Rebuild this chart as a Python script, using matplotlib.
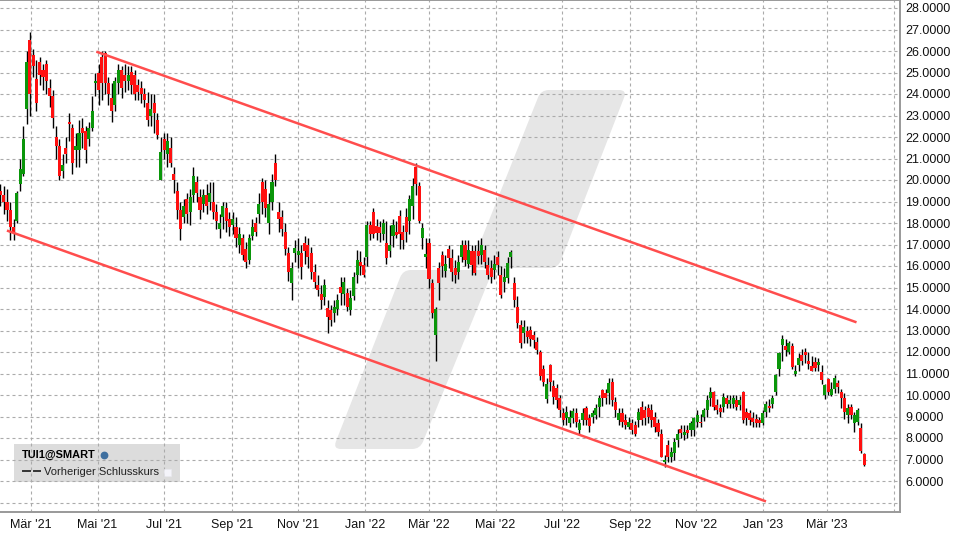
import numpy as np
import pandas as pd
import matplotlib
matplotlib.use("Agg")
import matplotlib.pyplot as plt
import matplotlib.dates as mdates
from matplotlib.lines import Line2D
from matplotlib.patches import PathPatch, Rectangle
from matplotlib.path import Path

plt.rcParams['font.family'] = ['Liberation Sans', 'DejaVu Sans']

# Kurse (alle 3 Tage eine Kerze)
opens = [
    19.5, 19.3, 19.0, 18.6, 17.8, 18.1, 19.8, 20.3, 23.3, 26.5,
    25.8, 24.7, 25.5, 25.1, 25.4, 24.3, 23.9, 22.0, 21.6, 20.4,
    21.5, 22.7, 22.4, 21.4, 21.4, 22.4, 22.3, 21.9, 22.4, 24.5,
    25.0, 25.7, 25.9, 24.5, 23.8, 23.5, 24.5, 25.1, 24.9, 24.6,
    25.0, 24.9, 24.4, 24.3, 24.0, 23.6, 23.0, 23.6, 22.8, 20.0,
    21.9, 21.2, 21.5, 20.3, 19.5, 18.6, 18.3, 19.1, 18.5, 19.3,
    19.9, 19.2, 18.9, 19.3, 19.0, 19.0, 18.5, 17.7, 18.3, 18.7,
    18.2, 17.9, 17.8, 17.0, 17.3, 16.8, 16.3, 17.4, 18.0, 18.4,
    19.9, 19.6, 18.0, 19.0, 20.8, 18.5, 18.3, 17.6, 16.6, 15.2,
    16.6, 16.5, 16.6, 17.07, 17.0, 16.6, 15.7, 15.1, 14.7, 14.55,
    14.03, 13.95, 13.8, 14.0, 15.04, 14.7, 14.73, 13.95, 14.6, 15.6,
    16.2, 16.05, 16.4, 17.9, 18.5, 17.86, 17.8, 17.5, 17.05, 16.7,
    17.4, 17.6, 18.34, 17.6, 18.3, 18.07, 18.8, 20.6, 19.7, 17.3,
    16.4, 17.05, 15.2, 12.8, 15.9, 16.5, 15.75, 16.8, 16.35, 15.9,
    15.74, 16.4, 16.98, 16.1, 16.7, 16.7, 16.7, 16.5, 16.74, 16.05,
    15.9, 15.8, 16.4, 15.6, 15.27, 15.43, 16.44, 15.2, 14.1, 13.25,
    12.87, 13.0, 13.02, 12.8, 12.48, 12.0, 11.2, 9.8, 11.4, 10.4,
    10.31, 9.85, 9.15, 8.91, 8.68, 8.91, 9.15, 8.37, 8.84, 9.38,
    8.92, 8.99, 9.07, 9.45, 10.23, 10.07, 10.07, 10.62, 9.69, 8.84,
    9.15, 8.84, 8.52, 8.68, 8.6, 8.84, 9.46, 9.3, 9.38, 9.3,
    8.99, 8.68, 8.2, 6.9, 7.67, 7.13, 7.29, 7.9, 8.4, 8.15,
    8.37, 8.37, 8.37, 8.76, 8.76, 9.0, 9.3, 9.85, 10.15, 9.53,
    9.38, 9.46, 9.85, 9.6, 9.6, 9.77, 9.53, 10.15, 9.22, 9.15,
    8.91, 8.9, 8.85, 8.7, 9.2, 9.5, 9.6, 10.16, 11.2, 12.33,
    12.3, 12.0, 12.3, 11.0, 11.4, 11.85, 12.0, 11.6, 11.35, 11.55,
    11.4, 11.07, 10.0, 10.73, 10.0, 10.3, 10.55, 10.15, 9.85, 9.07,
    9.46, 8.68, 8.76, 8.45, 7.25,
]
closes = [
    19.3, 19.0, 18.6, 17.8, 17.6, 19.4, 20.5, 21.9, 25.5, 24.0,
    25.3, 23.6, 24.9, 24.8, 24.6, 23.9, 22.9, 21.6, 20.2, 20.7,
    21.2, 22.6, 20.8, 21.6, 22.2, 22.2, 21.4, 22.4, 23.2, 24.6,
    24.2, 24.5, 24.5, 24.0, 23.2, 24.6, 25.1, 24.3, 24.6, 24.9,
    24.4, 24.0, 24.1, 24.0, 23.7, 22.8, 23.3, 23.1, 22.1, 21.3,
    21.4, 21.8, 20.8, 20.0, 18.6, 17.7, 18.8, 18.4, 19.2, 20.2,
    19.4, 18.6, 19.3, 18.8, 19.4, 18.5, 18.1, 18.0, 18.8, 18.1,
    17.8, 18.2, 17.3, 17.5, 16.5, 16.2, 17.3, 17.8, 17.6, 18.9,
    19.0, 18.7, 18.9, 19.9, 20.0, 18.2, 17.7, 16.8, 15.7, 15.9,
    16.85, 16.7, 15.95, 16.7, 16.4, 15.7, 15.25, 14.9, 14.4, 15.1,
    13.64, 13.5, 14.1, 14.4, 14.73, 15.27, 14.1, 14.5, 15.5, 16.3,
    16.0, 15.6, 17.9, 17.5, 17.5, 17.55, 17.55, 18.0, 16.35, 17.0,
    17.9, 17.45, 17.5, 17.2, 17.6, 19.1, 19.7, 19.8, 18.1, 17.75,
    16.55, 15.4, 13.8, 14.0, 15.2, 16.0, 16.1, 16.35, 15.7, 15.6,
    16.2, 16.97, 16.3, 16.75, 16.05, 15.66, 16.45, 16.98, 16.2, 15.6,
    15.5, 16.1, 16.05, 14.65, 15.5, 16.13, 16.67, 14.4, 13.33, 12.4,
    13.18, 12.7, 12.6, 12.55, 12.09, 10.9, 10.6, 10.5, 10.6, 9.9,
    9.77, 9.3, 8.85, 9.22, 8.99, 9.26, 8.75, 8.68, 9.15, 8.84,
    8.55, 9.15, 9.38, 9.85, 9.84, 9.84, 10.54, 9.77, 9.3, 9.15,
    8.76, 8.6, 8.76, 8.37, 8.2, 9.22, 8.84, 8.91, 9.0, 8.84,
    8.52, 8.3, 7.13, 7.0, 7.13, 7.36, 7.83, 8.2, 8.25, 8.3,
    8.25, 8.68, 8.91, 9.07, 8.68, 9.3, 9.77, 10.15, 9.46, 9.3,
    9.2, 9.92, 9.6, 9.77, 9.85, 9.46, 9.77, 8.84, 8.91, 8.84,
    8.75, 8.7, 8.7, 9.15, 9.6, 9.4, 9.85, 10.93, 11.95, 12.6,
    12.1, 12.4, 11.3, 11.1, 11.7, 11.6, 11.85, 11.45, 11.13, 11.25,
    11.55, 10.7, 10.46, 10.15, 10.3, 10.77, 10.35, 9.85, 9.2, 9.38,
    9.07, 9.07, 9.3, 7.4, 6.74,
]
highs = [
    19.8, 19.7, 19.6, 19.0, 18.2, 19.5, 21.0, 22.5, 26.0, 26.9,
    26.1, 25.6, 25.7, 25.4, 25.6, 24.7, 24.2, 22.5, 21.9, 21.2,
    22.0, 23.1, 22.6, 22.2, 22.8, 22.9, 22.5, 22.7, 23.9, 25.0,
    25.4, 26.0, 26.0, 24.8, 24.5, 24.8, 25.4, 25.3, 25.4, 25.3,
    25.3, 25.1, 24.7, 24.6, 24.3, 24.1, 24.0, 24.0, 23.1, 22.0,
    22.2, 22.2, 22.0, 20.6, 19.9, 19.0, 19.1, 19.4, 19.6, 20.6,
    20.2, 19.6, 19.6, 19.8, 19.9, 19.9, 18.9, 18.4, 19.0, 19.0,
    18.5, 18.5, 18.3, 17.8, 17.5, 17.1, 17.5, 18.2, 18.3, 19.4,
    20.1, 20.0, 19.4, 20.3, 21.2, 19.0, 18.6, 18.0, 16.9, 16.2,
    17.2, 17.3, 17.0, 17.4, 17.3, 16.9, 16.1, 15.6, 15.1, 15.4,
    14.4, 14.2, 14.4, 14.7, 15.5, 15.5, 15.0, 14.9, 15.7, 16.74,
    16.7, 16.4, 18.1, 18.1, 18.7, 18.2, 18.1, 18.2, 18.1, 17.9,
    18.2, 18.1, 18.6, 17.9, 18.7, 19.3, 20.1, 20.8, 19.9, 18.0,
    17.3, 17.3, 15.4, 14.1, 16.2, 16.7, 16.5, 17.0, 16.8, 16.3,
    16.5, 17.2, 17.2, 17.2, 17.0, 17.0, 17.2, 17.3, 17.0, 16.4,
    16.3, 16.5, 16.7, 16.0, 15.9, 16.4, 16.75, 15.5, 14.6, 13.5,
    13.5, 13.2, 13.2, 13.0, 12.7, 12.1, 11.4, 10.8, 11.45, 10.7,
    10.5, 10.0, 9.4, 9.5, 9.3, 9.4, 9.4, 8.9, 9.4, 9.5,
    9.1, 9.3, 9.6, 10.0, 10.3, 10.3, 10.77, 10.8, 9.9, 9.4,
    9.4, 9.1, 9.0, 8.9, 8.8, 9.4, 9.7, 9.5, 9.6, 9.6,
    9.2, 8.9, 8.4, 7.2, 7.9, 7.6, 8.0, 8.4, 8.6, 8.6,
    8.6, 8.8, 9.0, 9.3, 9.1, 9.4, 10.0, 10.35, 10.2, 9.8,
    9.6, 10.1, 10.0, 10.0, 10.0, 10.0, 9.95, 10.2, 9.4, 9.3,
    9.2, 9.1, 9.0, 9.3, 9.7, 9.8, 10.0, 11.0, 12.0, 12.79,
    12.6, 12.5, 12.4, 11.4, 11.95, 12.15, 12.2, 12.0, 11.8, 11.75,
    11.7, 11.4, 10.5, 10.8, 10.6, 10.95, 10.7, 10.3, 10.1, 9.6,
    9.6, 9.2, 9.4, 8.7, 7.3,
]
lows = [
    18.8, 18.4, 18.1, 17.2, 17.2, 18.0, 19.5, 20.2, 22.6, 23.0,
    24.8, 23.2, 24.4, 24.2, 24.0, 23.4, 22.4, 21.0, 20.0, 20.1,
    20.8, 21.8, 20.3, 20.6, 20.6, 21.5, 20.8, 21.6, 22.3, 23.9,
    23.5, 23.7, 24.0, 23.5, 22.7, 23.2, 24.0, 23.8, 24.1, 24.2,
    24.0, 23.7, 23.7, 23.6, 23.4, 22.5, 22.5, 22.2, 21.9, 20.0,
    21.0, 20.6, 20.6, 19.4, 18.2, 17.2, 18.0, 18.0, 17.9, 19.0,
    19.0, 18.2, 18.5, 18.4, 18.6, 18.2, 17.7, 17.3, 17.7, 17.6,
    17.4, 17.5, 16.9, 16.6, 16.3, 15.9, 16.1, 17.2, 17.4, 18.0,
    18.4, 18.3, 17.5, 18.6, 19.7, 17.6, 17.4, 16.5, 15.3, 14.4,
    16.2, 15.9, 15.4, 16.1, 15.9, 15.4, 15.0, 14.6, 14.0, 14.2,
    12.9, 13.2, 13.4, 13.7, 14.2, 14.2, 13.9, 13.7, 14.4, 15.2,
    15.6, 15.5, 16.0, 17.2, 17.3, 17.2, 17.1, 17.2, 16.1, 16.4,
    16.9, 17.3, 16.8, 16.8, 17.1, 17.5, 18.2, 19.3, 18.0, 16.8,
    15.9, 15.0, 13.6, 11.6, 14.4, 15.5, 15.5, 15.9, 15.3, 15.2,
    15.4, 16.2, 16.0, 15.9, 15.6, 15.6, 16.1, 16.1, 15.9, 15.4,
    15.2, 15.4, 15.6, 14.5, 14.8, 15.2, 15.9, 14.1, 13.1, 12.2,
    12.4, 12.4, 12.3, 12.2, 11.9, 10.7, 10.4, 9.65, 10.2, 9.6,
    9.4, 9.0, 8.6, 8.6, 8.5, 8.7, 8.5, 8.2, 8.6, 8.6,
    8.3, 8.7, 8.9, 9.0, 9.5, 9.6, 9.6, 9.5, 9.0, 8.6,
    8.5, 8.4, 8.4, 8.2, 8.1, 8.5, 8.6, 8.6, 8.7, 8.5,
    8.3, 8.1, 7.1, 6.67, 6.9, 6.9, 7.0, 7.6, 8.0, 7.9,
    8.0, 8.1, 8.1, 8.5, 8.5, 8.8, 9.0, 9.5, 9.3, 9.1,
    9.0, 9.2, 9.4, 9.4, 9.4, 9.3, 9.3, 8.7, 8.6, 8.6,
    8.5, 8.5, 8.5, 8.6, 9.0, 9.2, 9.4, 10.0, 10.9, 11.6,
    11.8, 11.9, 11.2, 10.9, 11.1, 11.4, 11.5, 11.2, 11.1, 11.1,
    11.1, 10.5, 9.8, 10.0, 9.95, 10.1, 10.1, 9.4, 8.9, 8.7,
    8.9, 8.3, 8.6, 7.3, 6.7,
]

# Trendkanal (Datum, Kurs)
upper_dates = ["2021-05-01", "2023-03-27"]
upper_prices = [25.95, 13.4]
lower_dates = ["2021-02-08", "2023-01-03"]
lower_prices = [17.63, 5.07]

y_ticks = list(range(5, 29))
x_ticks = ["2021-03-01", "2021-05-01", "2021-07-01", "2021-09-01", "2021-11-01", "2022-01-01", "2022-03-01",
           "2022-05-01", "2022-07-01", "2022-09-01", "2022-11-01", "2023-01-01", "2023-03-01", "2023-05-01"]
x_labels = ["Mär '21", "Mai '21", "Jul '21", "Sep '21", "Nov '21", "Jan '22", "Mär '22",
            "Mai '22", "Jul '22", "Sep '22", "Nov '22", "Jan '23", "Mär '23", ""]

fig = plt.figure(figsize=(9.6, 5.4), dpi=100)
ax = fig.add_axes([0, 28 / 540, 900 / 960, 512 / 540])


def px(x, y):
    # Pixel im Bild -> Achsenkoordinaten
    return x / 900, 1 - y / 512


def rounded(points, r):
    # Polygon mit abgerundeten Ecken
    pts = np.array(points, dtype=float)
    verts, codes = [], []
    n = len(pts)
    for i in range(n):
        p, prev, nxt = pts[i], pts[i - 1], pts[(i + 1) % n]
        a = p + (prev - p) / np.linalg.norm(prev - p) * r
        b = p + (nxt - p) / np.linalg.norm(nxt - p) * r
        verts += [a, p, b]
        codes += [Path.MOVETO if i == 0 else Path.LINETO, Path.CURVE3, Path.CURVE3]
    verts.append(verts[0])
    codes.append(Path.CLOSEPOLY)
    return Path([px(*v) for v in verts], codes)


# Wasserzeichen im Hintergrund
for shape in ([(403, 270), (493, 270), (420, 449), (333, 449)],
              [(541, 90), (627, 90), (558, 268), (470, 268)]):
    ax.add_patch(PathPatch(rounded(shape, 8), fc="#e6e6e6", ec="none", transform=ax.transAxes, zorder=0))

# Legendenkasten
ax.add_patch(Rectangle(px(14, 482), 166 / 900, 38 / 512, fc="#dcdcdc", ec="none", transform=ax.transAxes, zorder=0.5))

ax.grid(True, linestyle=(0, (2.7, 2.7)), color="#ababab", linewidth=0.8, zorder=1)
ax.set_axisbelow(True)

# Kerzen
dates = pd.date_range("2021-02-01", periods=len(closes), freq="3D")
x_num = mdates.date2num(dates)
o = np.array(opens)
c = np.array(closes)
colors = ["#0a960a" if b > a else "#ff1010" for a, b in zip(o, c)]
ax.vlines(x_num, lows, highs, color="black", linewidth=1.0, zorder=3)
ax.bar(x_num, np.abs(c - o), bottom=np.minimum(o, c), width=2.8, color=colors, linewidth=0, zorder=4)

# Trendlinien
ax.plot(mdates.date2num(pd.to_datetime(upper_dates)), upper_prices, color="#ff4d4d", linewidth=1.8, zorder=5)
ax.plot(mdates.date2num(pd.to_datetime(lower_dates)), lower_prices, color="#ff4d4d", linewidth=1.8, zorder=5)

# Achsen
t0 = mdates.date2num(pd.Timestamp("2021-03-01"))
ax.set_xlim(t0 - 31 / 1.0904, t0 + 869 / 1.0904)
ax.set_ylim(28 - 504 / 21.5, 28 + 8 / 21.5)
ax.set_xticks(mdates.date2num(pd.to_datetime(x_ticks)))
ax.set_xticklabels(x_labels, fontsize=9.0, color="#111111")
ax.set_yticks(y_ticks)
ax.set_yticklabels(["" if v == 5 else f"{v}.0000" for v in y_ticks], fontsize=9.0, color="#111111")
ax.yaxis.tick_right()
ax.tick_params(axis="both", length=0)
ax.tick_params(axis="y", pad=4)
ax.tick_params(axis="x", pad=5)
for side in ("top", "bottom", "right"):
    ax.spines[side].set_color("#999999")
    ax.spines[side].set_linewidth(1.4)
ax.spines["left"].set_visible(False)

# Legende
ax.text(*px(22, 455), "TUI1@SMART", transform=ax.transAxes, fontsize=7.9, fontweight="bold", va="center", zorder=6)
ax.text(*px(44, 472), "Vorheriger Schlusskurs", transform=ax.transAxes, fontsize=8.0, va="center", color="#222222", zorder=6)
for x0, x1 in ((23, 30), (34, 40)):
    xa, ya = px(x0, 471)
    xb, _ = px(x1, 471)
    ax.add_line(Line2D([xa, xb], [ya, ya], color="#333333", linewidth=1.4, transform=ax.transAxes, zorder=6))
ax.add_patch(Rectangle(px(164, 476), 7 / 900, 7 / 512, fc="#f4f4fa", ec="#e8e8ee", lw=0.5, transform=ax.transAxes, zorder=6))
xi, yi = px(104, 455)
ax.plot([xi], [yi], marker="o", markersize=4.6, color="#3f6f9f", transform=ax.transAxes, zorder=6)

fig.savefig("out.png", dpi=100)
